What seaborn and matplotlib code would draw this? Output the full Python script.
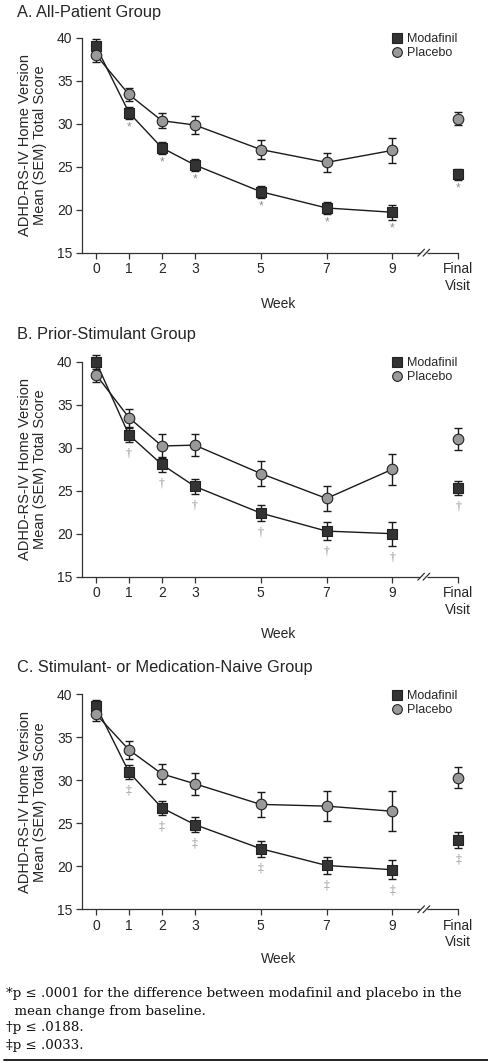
import seaborn as sns
import matplotlib.pyplot as plt
import pandas as pd
import numpy as np
from matplotlib.lines import Line2D

# DATA
x_pos = [0, 1, 2, 3, 5, 7, 9, 11]          # last position = Final Visit
tick_labels = ['0', '1', '2', '3', '5', '7', '9', 'Final\nVisit']
groups = ['Modafinil', 'Placebo']
panels = ['A', 'B', 'C']
titles = ['A. All-Patient Group', 'B. Prior-Stimulant Group',
          'C. Stimulant- or Medication-Naive Group']
sig_marks = ['*', '\u2020', '\u2021']

a_modafinil = [39.0, 31.3, 27.2, 25.2, 22.1, 20.2, 19.7, 24.1]
a_modafinil_sem = [0.8, 0.7, 0.7, 0.7, 0.7, 0.7, 0.85, 0.65]
a_placebo = [38.0, 33.4, 30.35, 29.85, 27.0, 25.5, 26.9, 30.6]
a_placebo_sem = [0.8, 0.8, 0.9, 1.0, 1.05, 1.1, 1.45, 0.8]

b_modafinil = [40.0, 31.5, 28.05, 25.5, 22.4, 20.3, 20.0, 25.3]
b_modafinil_sem = [0.8, 0.8, 0.85, 0.9, 0.9, 1.05, 1.4, 0.8]
b_placebo = [38.5, 33.5, 30.2, 30.3, 27.0, 24.1, 27.5, 31.0]
b_placebo_sem = [0.9, 1.05, 1.35, 1.3, 1.45, 1.5, 1.8, 1.25]

c_modafinil = [38.65, 30.95, 26.8, 24.85, 22.05, 20.1, 19.6, 23.05]
c_modafinil_sem = [0.7, 0.8, 0.8, 0.85, 0.95, 0.95, 1.1, 0.9]
c_placebo = [37.7, 33.55, 30.75, 29.6, 27.2, 27.0, 26.4, 30.3]
c_placebo_sem = [0.85, 1.05, 1.15, 1.3, 1.45, 1.75, 2.35, 1.2]

footnotes = [
    '*p \u2264 .0001 for the difference between modafinil and placebo in the',
    '  mean change from baseline.',
    '\u2020p \u2264 .0188.',
    '\u2021p \u2264 .0033.',
]

# Build long dataframe
series = {
    ('A', 'Modafinil'): (a_modafinil, a_modafinil_sem),
    ('A', 'Placebo'): (a_placebo, a_placebo_sem),
    ('B', 'Modafinil'): (b_modafinil, b_modafinil_sem),
    ('B', 'Placebo'): (b_placebo, b_placebo_sem),
    ('C', 'Modafinil'): (c_modafinil, c_modafinil_sem),
    ('C', 'Placebo'): (c_placebo, c_placebo_sem),
}
rows = []
for (panel, group), (means, sems) in series.items():
    for x, m, s in zip(x_pos, means, sems):
        rows.append({'panel': panel, 'group': group, 'x': x, 'mean': m, 'sem': s})
data = pd.DataFrame(rows)

# STYLE
sns.set_style('ticks')
plt.rcParams['font.family'] = ['Liberation Sans', 'DejaVu Sans']
serif = ['DejaVu Serif', 'Liberation Serif']

fill = {'Modafinil': '#333333', 'Placebo': '#999999'}
markers = {'Modafinil': 's', 'Placebo': 'o'}
black = {'Modafinil': '#1a1a1a', 'Placebo': '#1a1a1a'}

fig = plt.figure(figsize=(4.89, 10.63), dpi=100)

ax_bottoms = [0.7623, 0.4575, 0.1446]
title_y = [0.9887, 0.6849, 0.3716]
week_pad = [3, 7.5, 2]

for i, panel in enumerate(panels):
    ax = fig.add_axes([0.168, ax_bottoms[i], 0.803, 0.2022])
    d = data[data['panel'] == panel]
    weekly = d[d['x'] <= 9]

    # connecting lines (weeks only)
    sns.lineplot(data=weekly, x='x', y='mean', hue='group', palette=black,
                 linewidth=1.0, legend=False, ax=ax, zorder=2)

    # SEM error bars
    for g in groups:
        dg = d[d['group'] == g]
        ax.errorbar(dg['x'], dg['mean'], yerr=dg['sem'], fmt='none',
                    ecolor='#1a1a1a', elinewidth=1.0, capsize=3.2,
                    capthick=1.0, zorder=3, clip_on=False)

    # markers
    for g in groups:
        dg = d[d['group'] == g]
        sns.scatterplot(x=dg['x'], y=dg['mean'], marker=markers[g],
                        color=fill[g], edgecolor='#222222', linewidth=0.8,
                        s=58, ax=ax, zorder=4, clip_on=False, legend=False)

    # significance marks below modafinil
    dm = d[(d['group'] == 'Modafinil') & (d['x'] > 0)]
    off = 1.0 if i == 0 else 1.35
    for _, r in dm.iterrows():
        ax.text(r['x'], r['mean'] - r['sem'] - off, sig_marks[i],
                ha='center', va='center', color='#8c8c8c',
                fontsize=8.5, family=['Liberation Serif'] if i else None)

    # axes
    ax.set_xlim(-0.42, 11.5)
    ax.set_ylim(15, 40)
    ax.set_yticks([15, 20, 25, 30, 35, 40])
    ax.set_xticks(x_pos)
    ax.set_xticklabels(tick_labels, linespacing=1.2)
    ax.tick_params(axis='both', labelsize=10, length=4.5, width=0.9,
                   color='#333333', pad=2.5)
    sns.despine(ax=ax)
    ax.spines['left'].set_bounds(15, 40)
    ax.spines['bottom'].set_bounds(-0.42, 11)
    for s in ['left', 'bottom']:
        ax.spines[s].set_linewidth(0.9)
        ax.spines[s].set_color('#333333')

    # axis break marks
    ax.plot([9.84, 10.04], [14.9, 14.9], color='white', lw=2.5,
            clip_on=False, zorder=5, solid_capstyle='butt')
    for bx in [9.87, 10.03]:
        ax.plot([bx - 0.1, bx + 0.1], [14.6, 15.4], color='#333333', lw=0.9,
                clip_on=False, zorder=6)

    ax.set_ylabel('ADHD-RS-IV Home Version\nMean (SEM) Total Score',
                  fontsize=10.5, linespacing=1.1, labelpad=7)
    ax.set_xlabel('Week', fontsize=10, labelpad=week_pad[i])

    handles = [Line2D([], [], ls='', marker=markers[g], markersize=7,
                      markerfacecolor=fill[g], markeredgecolor='#222222',
                      markeredgewidth=0.8) for g in groups]
    ax.legend(handles, groups, loc='upper left', bbox_to_anchor=(0.785, 1.02),
              frameon=False, fontsize=9, handletextpad=0.3, labelspacing=0.15,
              handlelength=1.0, borderpad=0, borderaxespad=0)

    fig.text(0.034, title_y[i], titles[i], fontsize=11.8, ha='left', va='center')

# footnotes
foot_y = [993, 1011, 1028, 1046]
for txt, y in zip(footnotes, foot_y):
    fig.text(0.012, 1 - y / 1063, txt, family=serif, fontsize=9.6,
             ha='left', va='center', color='#111111')
fig.add_artist(Line2D([0.008, 0.998], [1 - 1059.5 / 1063] * 2,
                      color='#111111', lw=1.3))

fig.savefig('out.png', dpi=100)
